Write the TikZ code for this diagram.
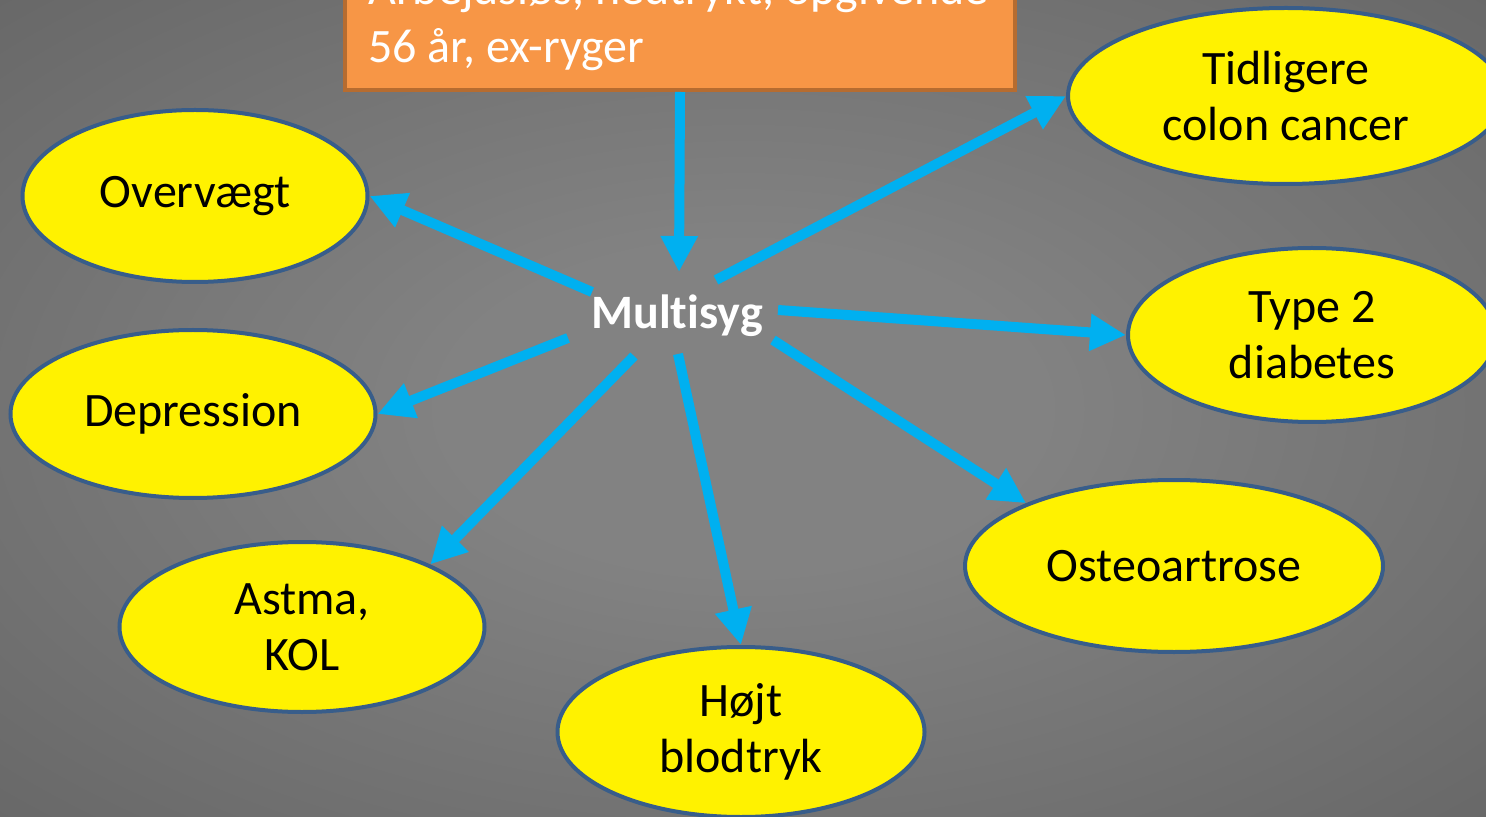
\documentclass[tikz,border=0pt]{standalone}
\usepackage{fontspec}
\setmainfont{Carlito}[Ligatures={NoCommon}]
\usetikzlibrary{arrows.meta,shapes.geometric}
\definecolor{bgin}{RGB}{130,130,130}
\definecolor{bgout}{RGB}{68,68,68}
\definecolor{arr}{RGB}{0,176,240}
\definecolor{ellb}{RGB}{56,93,138}
\definecolor{boxf}{RGB}{247,150,70}
\definecolor{boxd}{RGB}{182,108,48}
\pgfdeclareradialshading{bgshade}{\pgfpoint{0bp}{0bp}}{color(0bp)=(bgin); color(10bp)=(bgin); color(71bp)=(bgout)}
\begin{document}
\begin{tikzpicture}[x=0.5pt,y=-0.5pt,
  ell/.style={ellipse, draw=ellb, line width=2pt, fill=yellow, inner sep=0pt, align=center,
    font=\fontsize{24}{28}\selectfont, text=black},
  boxtxt/.style={anchor=base west, inner sep=0pt, text=white, font=\fontsize{24}{28}\selectfont},
  arrow/.style={draw=arr, line width=5pt, -{Triangle[length=18pt,width=17.5pt]}}]
\useasboundingbox (0,0) rectangle (1486,817);
\begin{scope}
\clip (0,0) rectangle (1486,817);
\shade[shading=bgshade] (0,0) rectangle (1486,817);
% top box
\node[draw=boxd, fill=boxf, line width=2pt, minimum width=335pt, minimum height=80pt, inner sep=0pt] (box) at (680,10) {};
\node[boxtxt] (l1) at (368,5) {Arbejdsløs, nedtrykt, opgivende};
\node[boxtxt] (l2) at (368,63) {56 år, ex-ryger};
% centre
\node[text=white, font=\fontsize{24}{28}\selectfont\bfseries, inner sep=0pt] (ms) at (677,316) {Multisyg};
% ellipses
\node[ell, minimum width=172.5pt, minimum height=86pt] (ov) at (195,196) {Overvægt};
\node[ell, minimum width=182.5pt, minimum height=84pt] (dep) at (193,414) {Depression};
\node[ell, minimum width=182.5pt, minimum height=85pt] (am) at (302,627) {Astma,\\KOL};
\node[ell, minimum width=183.5pt, minimum height=85pt] (hb) at (741,732) {Højt\\blodtryk};
\node[ell, minimum width=209pt, minimum height=86pt] (os) at (1174,566) {Osteoartrose};
\node[ell, minimum width=184pt, minimum height=87pt] (t2) at (1312,335) {Type 2\\diabetes};
\node[ell, minimum width=218pt, minimum height=88pt] (tc) at (1286,96) {Tidligere\\colon cancer};
% arrow start/end coordinates
\coordinate (e1) at (679,272);
\coordinate (s2) at (592,292);
\coordinate (s3) at (568,338);
\coordinate (s4) at (634,356);
\coordinate (s5) at (678,354);
\coordinate (s6) at (773,340);
\coordinate (s7) at (778,310);
\coordinate (s8) at (716,280);
\draw[arrow] (box.south) -- (e1);
\draw[arrow] (s2) -- (ov.east);
\draw[arrow] (s3) -- (dep.east);
\draw[arrow] (s4) -- (am.26);
\draw[arrow] (s5) -- (hb.north);
\draw[arrow] (s6) -- (os.157);
\draw[arrow] (s7) -- (t2.west);
\draw[arrow] (s8) -- (tc.west);
\end{scope}
\end{tikzpicture}
\end{document}
